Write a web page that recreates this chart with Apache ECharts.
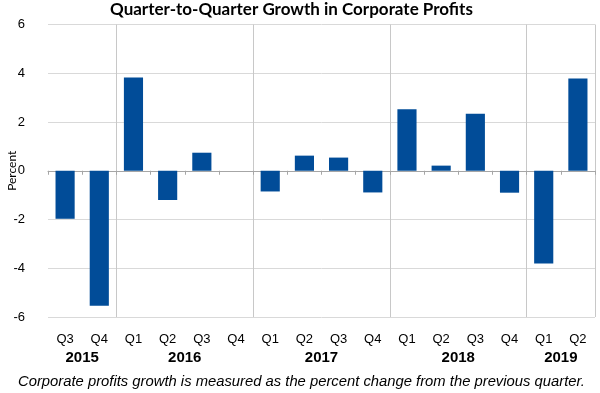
<!DOCTYPE html>
<html>
<head>
<meta charset="utf-8">
<script src="https://cdn.jsdelivr.net/npm/echarts@6/dist/echarts.min.js"></script>
<style>html,body{margin:0;padding:0;background:#fff;}#c{width:600px;height:393px;}</style>
</head>
<body>
<div id="c"></div>
<script>
var quarters = ['Q3','Q4','Q1','Q2','Q3','Q4','Q1','Q2','Q3','Q4','Q1','Q2','Q3','Q4','Q1','Q2'];
var growth = [-1.97, -5.54, 3.83, -1.2, 0.74, 0, -0.85, 0.62, 0.54, -0.89, 2.52, 0.21, 2.34, -0.9, -3.8, 3.78];
var yearLabels = {1: '2015', 4: '2016', 8: '2017', 12: '2018', 15: '2019'};
var separatorIdx = [2, 6, 10, 14];
var yTicks = [-6, -4, -2, 0, 2, 4, 6];

var chart = echarts.init(document.getElementById('c'));
chart.setOption({
  animation: false,
  title: [{
    text: 'Quarter-to-Quarter Growth in Corporate Profits',
    left: 105, top: -4,
    textStyle: {fontFamily: 'Lato', fontWeight: 'bold', fontSize: 17, color: '#000'}
  }, {
    text: 'Corporate profits growth is measured as the percent change from the previous quarter.',
    left: 13, top: 369,
    textStyle: {fontFamily: 'Liberation Sans', fontStyle: 'italic', fontWeight: 'normal', fontSize: 14.8, color: '#000'}
  }],
  grid: {left: 48, right: 5, top: 24.5, bottom: 76, containLabel: false, outerBoundsMode: 'none'},
  xAxis: [{
    type: 'category', data: quarters, position: 'bottom',
    axisLine: {onZero: true, lineStyle: {color: '#a6a6a6', width: 1}},
    axisTick: {show: true, length: 4, lineStyle: {color: '#a6a6a6'}},
    axisLabel: {show: false},
    splitLine: {show: true, interval: function (i) { return separatorIdx.indexOf(i) >= 0; },
      lineStyle: {color: '#c8c8c8', width: 1}}
  }, {
    type: 'category', data: quarters, position: 'bottom',
    axisLine: {show: false, onZero: false}, axisTick: {show: false},
    axisLabel: {margin: 16, fontFamily: 'Liberation Sans', fontSize: 13, color: '#000', interval: 0}
  }, {
    type: 'value', min: 0, max: 16, interval: 1, position: 'bottom',
    axisLine: {show: false, onZero: false}, axisTick: {show: false}, splitLine: {show: false},
    axisLabel: {margin: 33, fontFamily: 'Liberation Sans', fontWeight: 'bold', fontSize: 15, color: '#000',
      showMinLabel: true, showMaxLabel: true,
      formatter: function (v) { return yearLabels[v] || ''; }}
  }],
  yAxis: {
    type: 'value', min: -6, max: 6, interval: 2,
    name: 'Percent', nameLocation: 'middle', nameGap: 30, nameRotate: 90, nameMoveOverlap: false,
    nameTextStyle: {fontFamily: 'Lato', fontSize: 12, color: '#000'},
    axisLine: {show: false}, axisTick: {show: false},
    axisLabel: {margin: 23, fontFamily: 'Liberation Sans', fontSize: 13, color: '#000',
      formatter: function (v) { return yTicks.indexOf(v) >= 0 ? String(v) : ''; }},
    splitLine: {lineStyle: {color: '#d9d9d9', width: 1}}
  },
  series: [{
    type: 'bar', data: growth, xAxisIndex: 0, barCategoryGap: '44%',
    itemStyle: {color: '#014c98', borderWidth: 0}
  }]
});
</script>
</body>
</html>
